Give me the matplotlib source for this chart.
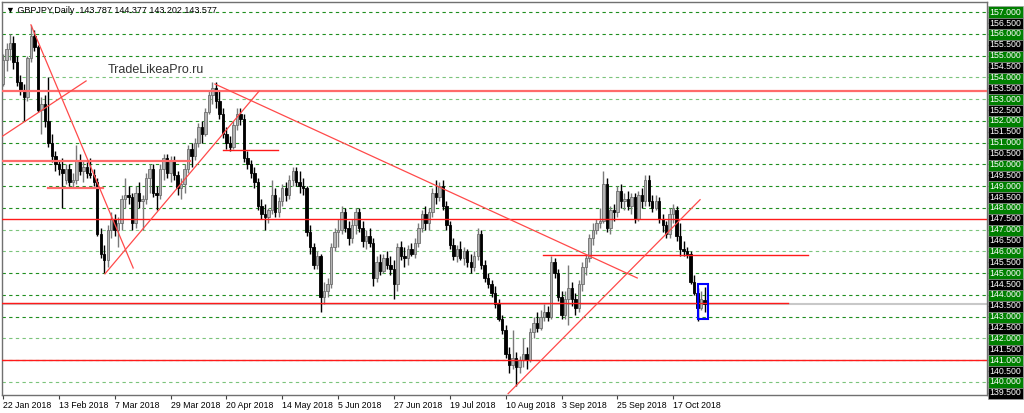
import numpy as np
import pandas as pd
import matplotlib
matplotlib.use("Agg")
import matplotlib.pyplot as plt
from matplotlib.patches import Rectangle

# GBPJPY daily bars, 22 Jan 2018 - 30 Oct 2018
opens = [153.70, 154.80, 155.30, 155.60, 154.70, 153.80, 153.40, 153.10, 154.90, 155.90,
         155.40, 152.50, 152.80, 152.00, 151.00, 150.40, 150.00, 149.80, 149.30, 149.80,
         149.20, 149.30, 150.20, 149.70, 149.90, 149.60, 149.50, 149.20, 146.80, 145.90,
         145.60, 147.00, 147.50, 147.00, 147.30, 148.40, 148.60, 148.50, 147.30, 148.70,
         148.30, 148.40, 149.40, 149.80, 148.70, 148.60, 149.80, 150.30, 149.60, 150.20,
         149.50, 148.90, 149.10, 149.80, 150.70, 150.40, 151.00, 151.70, 151.40, 152.40,
         153.20, 153.50, 152.90, 152.30, 151.40, 151.00, 150.80, 151.80, 152.30, 152.10,
         150.30, 150.00, 149.60, 149.20, 148.10, 147.70, 147.60, 147.90, 148.60, 147.80,
         148.30, 148.90, 148.60, 149.30, 149.70, 149.20, 149.00, 148.90, 146.90, 146.20,
         145.40, 145.80, 143.90, 144.20, 144.50, 146.20, 146.90, 147.00, 147.80, 147.10,
         146.60, 147.20, 147.80, 147.10, 146.50, 146.70, 146.40, 144.80, 145.50, 145.10,
         145.70, 145.40, 145.20, 144.50, 146.20, 145.80, 145.70, 146.10, 145.90, 146.40,
         147.10, 147.70, 147.30, 147.80, 148.70, 148.50, 149.00, 148.10, 147.20, 146.30,
         145.80, 146.10, 145.70, 146.00, 145.50, 145.30, 145.80, 146.80, 145.40, 144.80,
         144.50, 144.10, 143.60, 142.90, 142.40, 141.30, 140.80, 141.10, 140.70, 141.00,
         141.30, 141.00, 142.30, 142.70, 142.50, 143.00, 143.20, 143.00, 145.50, 145.00,
         143.90, 143.10, 143.80, 144.30, 143.80, 143.40, 144.50, 145.30, 145.70, 146.60,
         147.00, 147.30, 147.40, 149.10, 147.10, 147.90, 147.80, 148.80, 148.30, 148.40,
         148.10, 148.50, 147.50, 148.60, 148.30, 149.30, 148.30, 148.00, 148.30, 147.50,
         147.20, 146.80, 147.70, 147.90, 146.70, 146.10, 146.00, 145.90, 144.60, 144.10,
         143.40, 143.787]
highs = [155.10, 155.60, 156.00, 155.90, 155.00, 154.10, 153.70, 155.00, 156.40, 156.20,
         155.50, 153.10, 153.20, 154.00, 151.40, 150.60, 150.20, 150.30, 150.00, 150.00,
         149.60, 150.90, 150.50, 150.20, 150.10, 150.30, 149.80, 149.40, 147.10, 146.30,
         147.20, 147.80, 147.70, 147.60, 148.60, 149.40, 149.00, 148.70, 149.00, 149.20,
         148.60, 149.60, 150.00, 150.00, 149.00, 150.00, 150.50, 150.50, 150.40, 150.40,
         149.70, 149.40, 150.00, 150.90, 151.00, 151.20, 151.90, 152.00, 152.60, 153.40,
         153.80, 153.80, 153.40, 152.60, 151.70, 151.30, 152.00, 152.60, 152.60, 152.30,
         150.60, 150.20, 149.90, 149.40, 148.40, 148.20, 148.00, 149.30, 148.90, 148.50,
         149.10, 149.20, 149.50, 149.90, 149.90, 149.70, 149.40, 149.00, 147.20, 146.40,
         146.00, 145.90, 144.60, 144.80, 146.40, 147.10, 147.50, 148.10, 148.00, 147.40,
         147.50, 148.00, 148.00, 147.40, 147.00, 147.10, 146.60, 145.80, 145.90, 145.90,
         146.00, 145.80, 145.60, 146.40, 146.50, 146.20, 146.30, 146.40, 146.60, 147.30,
         147.90, 148.10, 148.00, 148.90, 149.30, 149.20, 149.30, 148.30, 147.40, 146.60,
         146.30, 146.50, 146.20, 146.10, 145.90, 146.00, 147.10, 147.00, 145.60, 145.00,
         144.70, 144.40, 143.80, 143.10, 142.60, 141.60, 142.40, 141.40, 141.20, 142.00,
         141.60, 142.50, 143.00, 143.20, 143.30, 143.60, 143.50, 145.80, 145.70, 145.20,
         144.20, 144.20, 145.40, 144.60, 144.10, 144.70, 145.50, 145.90, 146.80, 147.30,
         147.50, 148.00, 149.70, 149.40, 148.10, 148.20, 149.00, 149.10, 148.70, 148.80,
         148.70, 148.70, 148.80, 148.90, 149.50, 149.50, 148.60, 148.60, 148.50, 147.70,
         147.40, 148.00, 148.20, 148.10, 147.30, 146.50, 146.20, 146.00, 144.90, 144.30,
         144.20, 144.377]
lows = [153.60, 154.30, 154.80, 154.40, 153.60, 153.20, 152.00, 152.90, 154.70, 155.20,
        152.40, 151.40, 151.70, 150.80, 150.10, 149.70, 149.50, 148.00, 149.10, 149.00,
        148.90, 149.10, 149.50, 149.20, 149.40, 149.40, 149.00, 146.70, 145.70, 145.00,
        145.30, 146.60, 146.70, 146.20, 147.00, 148.00, 148.20, 147.00, 147.10, 148.00,
        147.00, 148.20, 148.70, 148.50, 147.90, 148.40, 149.30, 149.40, 149.20, 149.30,
        148.60, 148.40, 148.70, 149.60, 149.90, 150.20, 150.80, 151.00, 151.30, 152.30,
        152.80, 152.60, 152.10, 151.20, 150.70, 150.60, 150.70, 151.60, 151.80, 150.10,
        149.80, 149.40, 148.90, 147.90, 147.50, 147.00, 147.30, 147.70, 147.60, 147.60,
        148.10, 148.30, 148.40, 149.00, 149.00, 148.70, 148.60, 146.70, 145.90, 145.20,
        145.20, 143.20, 143.60, 143.90, 144.30, 146.00, 146.20, 146.80, 146.90, 146.30,
        146.40, 146.80, 146.90, 146.20, 146.10, 146.20, 144.40, 144.60, 144.90, 145.00,
        145.20, 144.90, 143.80, 144.20, 145.60, 145.30, 145.40, 145.80, 145.70, 146.20,
        146.90, 147.00, 147.00, 147.60, 148.20, 148.30, 147.90, 147.00, 146.10, 145.60,
        145.50, 145.60, 145.40, 145.30, 145.00, 145.10, 145.60, 145.20, 144.60, 144.30,
        143.90, 143.40, 142.80, 142.20, 141.10, 140.40, 140.60, 139.80, 140.40, 140.70,
        140.60, 140.90, 142.00, 142.30, 142.40, 142.80, 142.80, 142.90, 144.80, 143.70,
        142.90, 142.90, 142.60, 143.50, 143.10, 143.20, 144.20, 144.90, 145.50, 146.30,
        146.80, 147.10, 147.30, 146.90, 146.80, 147.40, 147.60, 148.00, 147.90, 147.90,
        147.70, 147.30, 147.40, 148.00, 148.10, 148.10, 147.80, 147.90, 147.30, 146.90,
        146.60, 146.60, 147.30, 146.50, 145.80, 145.80, 145.70, 144.50, 144.00, 142.80,
        143.30, 143.202]
closes = [154.80, 155.30, 155.60, 154.70, 153.80, 153.40, 153.10, 154.90, 155.90, 155.40,
          152.50, 152.80, 152.00, 151.00, 150.40, 150.00, 149.80, 149.60, 149.80, 149.20,
          149.30, 150.20, 149.70, 149.90, 149.60, 149.50, 149.20, 146.80, 145.90, 145.60,
          147.00, 147.50, 147.00, 147.30, 148.40, 148.60, 148.50, 147.30, 148.70, 148.30,
          148.40, 149.40, 149.80, 148.70, 148.60, 149.80, 150.30, 149.60, 150.20, 149.50,
          148.90, 149.10, 149.80, 150.70, 150.40, 151.00, 151.70, 151.40, 152.40, 153.20,
          153.50, 152.90, 152.30, 151.40, 151.00, 150.80, 151.80, 152.30, 152.10, 150.30,
          150.00, 149.60, 149.20, 148.10, 147.70, 147.60, 147.90, 148.60, 147.80, 148.30,
          148.90, 148.60, 149.30, 149.70, 149.20, 149.00, 148.90, 146.90, 146.20, 145.40,
          145.80, 143.90, 144.20, 144.50, 146.20, 146.90, 147.00, 147.80, 147.10, 146.60,
          147.20, 147.80, 147.10, 146.50, 146.70, 146.40, 144.80, 145.50, 145.10, 145.70,
          145.40, 145.20, 144.50, 146.20, 145.80, 145.70, 146.10, 145.90, 146.40, 147.10,
          147.70, 147.30, 147.80, 148.70, 148.50, 149.00, 148.10, 147.20, 146.30, 145.80,
          146.10, 145.70, 146.00, 145.50, 145.30, 145.80, 146.80, 145.40, 144.80, 144.50,
          144.10, 143.60, 142.90, 142.40, 141.30, 140.80, 141.10, 140.70, 141.00, 141.30,
          141.00, 142.30, 142.70, 142.50, 143.00, 143.20, 143.00, 145.50, 145.00, 143.90,
          143.10, 143.80, 144.30, 143.80, 143.40, 144.50, 145.30, 145.70, 146.60, 147.00,
          147.30, 147.40, 149.10, 147.10, 147.90, 147.80, 148.80, 148.30, 148.40, 148.10,
          148.50, 147.50, 148.60, 148.30, 149.30, 148.30, 148.00, 148.30, 147.50, 147.20,
          146.80, 147.70, 148.00, 146.70, 146.10, 146.00, 145.90, 144.60, 144.10, 143.40,
          143.80, 143.577]

dates = pd.bdate_range("2018-01-22", periods=len(closes))

# drawn objects (bar index, price)
hlevels = [153.40, 150.17, 148.92, 150.67, 147.50, 145.83, 143.65, 141.02]
hstart = [-1, -1, 12.9, 63.0, -1, 154.7, -1, -1]
hend = [290, 53.6, 28.7, 78.8, 290, 230.7, 224.9, 290]
hthick = [True, True, True, False, False, False, False, False]

trend_x0 = [8.0, -0.9, 29.2, 60.7, 144.7]
trend_y0 = [156.42, 151.22, 144.97, 153.70, 139.46]
trend_x1 = [37.3, 23.8, 73.4, 181.7, 199.7]
trend_y1 = [145.24, 153.84, 153.38, 144.78, 148.38]

bid = 143.577

o = np.array(opens); h = np.array(highs); l = np.array(lows); c = np.array(closes)
idx = np.arange(len(c))
up = c >= o

fig = plt.figure(figsize=(10.24, 4.13), dpi=100)
ax = fig.add_axes([2 / 1024, 18 / 413, 985 / 1024, 393 / 413])
ax.set_xlim(-0.29, 281.9)
ax.set_ylim(139.40, 157.47)

# grid levels
light = [154, 153, 147, 146, 142, 140]
for lvl in range(140, 158):
    col = "#7cc47c" if lvl in light else "#1f8f1f"
    ax.axhline(lvl, color=col, lw=0.8, ls=(0, (3, 3)), zorder=1)

ax.axhline(bid, color="#c8c8c8", lw=1.5, zorder=1.5)

# candles
ax.vlines(idx[up], l[up], h[up], color="#7a7a7a", lw=1, zorder=2)
ax.vlines(idx[~up], l[~up], h[~up], color="black", lw=1, zorder=2)
body_lo = np.minimum(o, c)
body_h = np.maximum(np.abs(c - o), 0.04)
ax.bar(idx[up], body_h[up], bottom=body_lo[up], width=0.7,
       color="#b4b4b4", edgecolor="#6e6e6e", lw=0.6, zorder=3)
ax.bar(idx[~up], body_h[~up], bottom=body_lo[~up], width=0.7,
       color="black", edgecolor="black", lw=0.6, zorder=3)

for y, x0, x1, thick in zip(hlevels, hstart, hend, hthick):
    if thick:
        ax.plot([x0, x1], [y, y], color="#ff6a6a", lw=1.6, zorder=4)
    else:
        ax.plot([x0, x1], [y, y], color="#ff1a1a", lw=1.0, zorder=4)

for x0, y0, x1, y1 in zip(trend_x0, trend_y0, trend_x1, trend_y1):
    ax.plot([x0, x1], [y0, y1], color="#ff4a4a", lw=0.9, zorder=4)

ax.add_patch(Rectangle((199.1, 142.90), 2.9, 1.61, fill=False,
                       edgecolor="#0000ff", lw=1.5, zorder=5))

# price scale
levels = np.arange(139.5, 157.01, 0.5)
ax.set_yticks(levels)
ax.yaxis.tick_right()
ax.tick_params(axis="y", length=3, color="#404040", labelright=False)
for p in levels:
    fc = "#008000" if p == int(p) else "black"
    ax.text(1.0025, p, f"{p:.3f}", transform=ax.get_yaxis_transform(),
            ha="left", va="center", fontsize=6.3, color="white",
            family="Liberation Sans",
            bbox=dict(boxstyle="square,pad=0.18", fc=fc, ec="#a0a0a0", lw=0.5))

# date scale
tick_pos = idx[::16]
ax.set_xticks(tick_pos)
ax.set_xticklabels([f"{d.day} {d.strftime('%b %Y')}" for d in dates[::16]],
                   ha="left", fontsize=6.3, family="Liberation Sans")
ax.tick_params(axis="x", length=3, pad=1.5, color="#404040")

for s in ax.spines.values():
    s.set_color("#707070")
    s.set_linewidth(1)

ax.text(0.004, 0.99, "\u25bc GBPJPY,Daily  143.787 144.377 143.202 143.577",
        transform=ax.transAxes, ha="left", va="top", fontsize=6.5,
        family=["Liberation Sans", "DejaVu Sans"])
fig.text(108 / 1024, 1 - 70 / 413, "TradeLikeaPro.ru", fontsize=9,
         color="#333333", va="center", family="Liberation Sans")

fig.savefig("out.png", dpi=100)
